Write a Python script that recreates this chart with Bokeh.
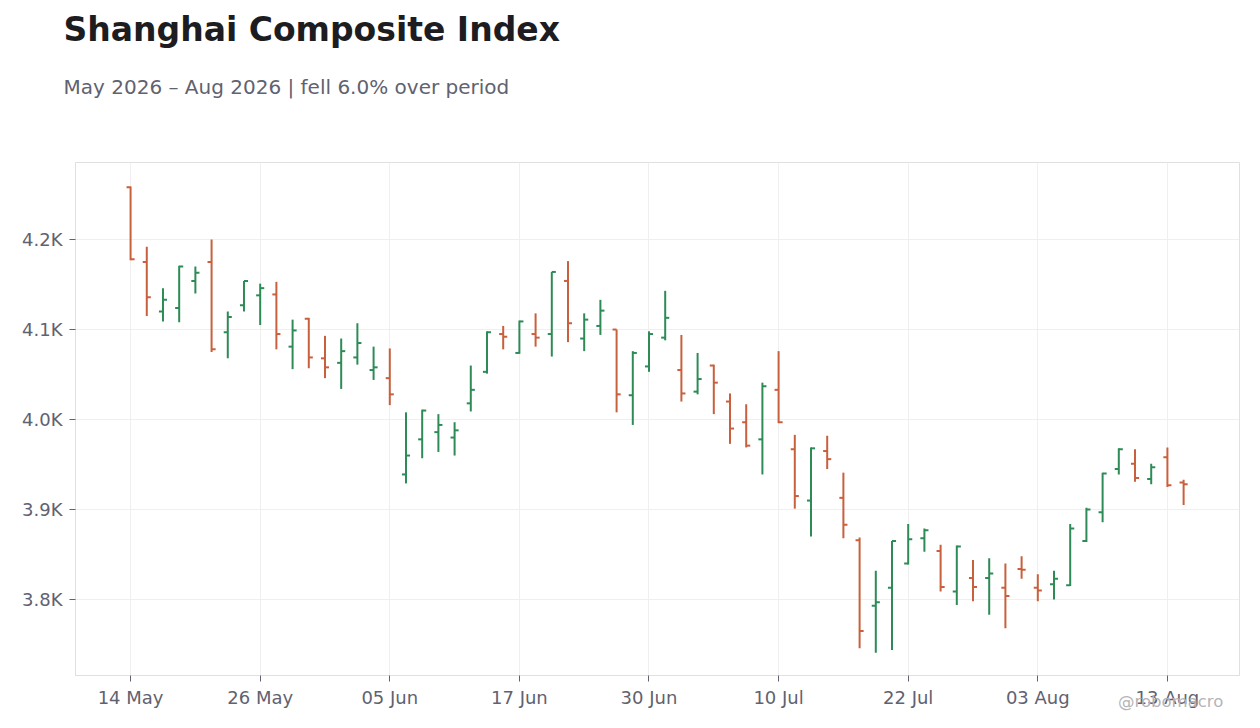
from bokeh.plotting import figure
from bokeh.layouts import column
from bokeh.models import ColumnDataSource, Range1d, FixedTicker, Title, Div
from bokeh.embed import file_html
from bokeh.resources import INLINE

# daily OHLC, one row per trading day (14 May - 14 Aug 2026)
opens = [4258, 4175, 4120, 4124, 4154, 4175, 4097, 4127, 4138, 4139,
         4081, 4112, 4068, 4063, 4069, 4055, 4046, 3939, 3978, 3986,
         3980, 4018, 4053, 4095, 4074, 4095, 4095, 4154, 4090, 4104,
         4100, 4027, 4059, 4091, 4055, 4031, 4060, 4020, 3997, 3978,
         4033, 3967, 3910, 3965, 3913, 3866, 3793, 3813, 3840, 3868,
         3854, 3809, 3824, 3824, 3813, 3834, 3813, 3817, 3816, 3865,
         3897, 3945, 3951, 3934, 3958, 3930]
highs = [4259, 4192, 4146, 4171, 4170, 4200, 4120, 4154, 4151, 4153,
         4111, 4113, 4093, 4090, 4107, 4081, 4079, 4008, 4011, 4006,
         3997, 4060, 4098, 4104, 4110, 4118, 4164, 4176, 4118, 4133,
         4100, 4076, 4098, 4143, 4094, 4074, 4061, 4029, 4017, 4041,
         4076, 3983, 3969, 3982, 3941, 3869, 3832, 3865, 3884, 3879,
         3861, 3860, 3844, 3846, 3840, 3848, 3828, 3832, 3884, 3902,
         3941, 3968, 3967, 3951, 3969, 3933]
lows = [4177, 4115, 4109, 4108, 4140, 4075, 4068, 4120, 4105, 4078,
        4056, 4057, 4046, 4034, 4061, 4044, 4016, 3929, 3957, 3964,
        3960, 4009, 4051, 4078, 4073, 4081, 4070, 4086, 4076, 4094,
        4008, 3994, 4053, 4088, 4020, 4028, 4006, 3973, 3969, 3939,
        3996, 3901, 3870, 3945, 3868, 3746, 3741, 3744, 3839, 3853,
        3809, 3794, 3798, 3783, 3768, 3823, 3798, 3800, 3815, 3864,
        3886, 3939, 3931, 3928, 3925, 3905]
closes = [4178, 4136, 4133, 4170, 4163, 4078, 4114, 4154, 4146, 4095,
          4099, 4069, 4058, 4076, 4085, 4058, 4028, 3960, 4010, 3994,
          3988, 4033, 4097, 4092, 4109, 4091, 4164, 4107, 4111, 4121,
          4028, 4074, 4095, 4113, 4029, 4045, 4041, 3990, 3971, 4037,
          3997, 3915, 3968, 3956, 3883, 3765, 3797, 3865, 3867, 3877,
          3814, 3859, 3814, 3829, 3804, 3833, 3810, 3823, 3879, 3900,
          3940, 3967, 3935, 3947, 3927, 3928]

# one label every 8th trading day
tick_labels = ["14 May", "26 May", "05 Jun", "17 Jun", "30 Jun",
               "10 Jul", "22 Jul", "03 Aug", "13 Aug"]
y_ticks = [3800, 3900, 4000, 4100, 4200]
y_labels = ["3.8K", "3.9K", "4.0K", "4.1K", "4.2K"]

UP = "#2e8b57"
DOWN = "#c9603d"
TEXT = "#5f6270"
FONT = "DejaVu Sans"
TICK = 0.25  # open/close tick length, in bars

n = len(opens)
xs = list(range(n))
source = ColumnDataSource(dict(
    x=xs,
    x_left=[i - TICK for i in xs],
    x_right=[i + TICK for i in xs],
    open=opens,
    high=highs,
    low=lows,
    close=closes,
    color=[UP if c >= o else DOWN for o, c in zip(opens, closes)],
))

p = figure(
    width=1250,
    height=720,
    x_range=Range1d(-3.4, 68.45),
    y_range=Range1d(3715.6, 4285.6),
    output_backend="svg",
    toolbar_location=None,
    min_border_left=75,
    min_border_right=11,
    min_border_top=162,
    min_border_bottom=45,
)
p.background_fill_color = "white"
p.border_fill_color = "white"
p.outline_line_color = "#e0e0e0"

p.segment("x", "high", "x", "low", source=source, color="color", line_width=2)
p.segment("x_left", "open", "x", "open", source=source, color="color", line_width=2)
p.segment("x", "close", "x_right", "close", source=source, color="color", line_width=2)

x_ticks = list(range(0, n, 8))
p.xaxis.ticker = FixedTicker(ticks=x_ticks)
p.xaxis.major_label_overrides = dict(zip(x_ticks, tick_labels))
p.yaxis.ticker = FixedTicker(ticks=y_ticks)
p.yaxis.major_label_overrides = dict(zip(y_ticks, y_labels))

for ax in (p.xaxis, p.yaxis):
    ax.axis_line_color = "#e0e0e0"
    ax.major_tick_line_color = TEXT
    ax.major_tick_out = 6
    ax.major_tick_in = 0
    ax.minor_tick_line_color = None
    ax.major_label_text_font = FONT
    ax.major_label_text_font_size = "18px"
    ax.major_label_text_color = TEXT
p.xaxis.major_label_standoff = 5
p.yaxis.major_label_standoff = 7

p.grid.grid_line_color = "#efefef"

# "above" panels stack upward from the frame: gap, subtitle, title
p.add_layout(Title(text=" ", text_font_size="1px", standoff=45), "above")
p.add_layout(Title(text="May 2026 \u2013 Aug 2026 | fell 6.0% over period",
                   align="left", offset=-12, standoff=32,
                   text_font=FONT, text_font_size="20px",
                   text_font_style="normal", text_color=TEXT), "above")
p.add_layout(Title(text="Shanghai Composite Index",
                   align="left", offset=-12, standoff=15,
                   text_font=FONT, text_font_size="33px",
                   text_font_style="bold", text_color="#1c1c21"), "above")

# watermark sits just under the plot, pulled up over the last tick label
mark = Div(
    text="@robomacro",
    width=120,
    height=20,
    margin=(-26, 0, 0, 1118),
    styles={"font-family": FONT, "font-size": "16.5px",
            "color": "#b4b4b8", "line-height": "1"},
)

layout = column(p, mark, spacing=0)
open("out.html", "w").write(file_html(layout, INLINE))
